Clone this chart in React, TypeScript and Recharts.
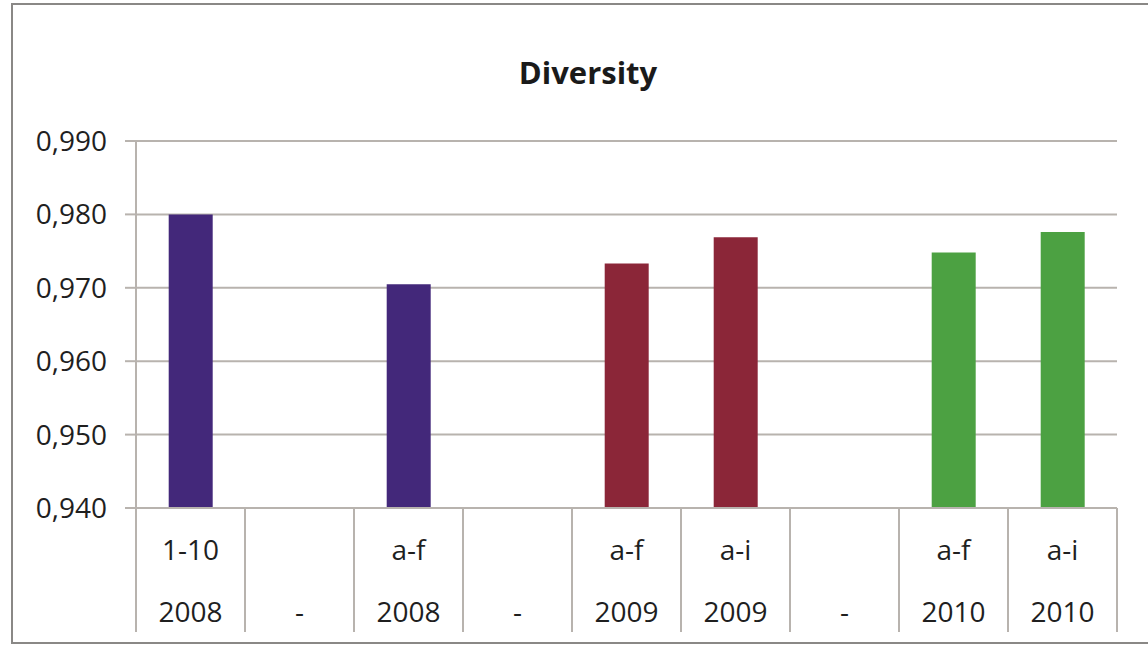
import React from 'react';
import { BarChart, Bar, XAxis, YAxis, CartesianGrid, Cell } from 'recharts';

const topLabels = ['1-10', '', 'a-f', '', 'a-f', 'a-i', '', 'a-f', 'a-i'];
const bottomLabels = ['2008', '-', '2008', '-', '2009', '2009', '-', '2010', '2010'];
const values: (number | null)[] = [0.98, null, 0.9705, null, 0.9733, 0.9769, null, 0.9748, 0.9776];
const barColors = ['#43287A', '#43287A', '#43287A', '#8B2638', '#8B2638', '#8B2638', '#4CA142', '#4CA142', '#4CA142'];
const yTicks = [0.94, 0.95, 0.96, 0.97, 0.98, 0.99];

const data = values.map((v, i) => ({ key: 'c' + i, value: v, top: topLabels[i], bottom: bottomLabels[i] }));

const W = 1148;
const H = 646;
const M = { top: 141, right: 31, bottom: 8, left: 0 };
const Y_W = 136;
const X_H = 130;
const PLOT_W = W - M.left - M.right - Y_W;
const BAND = PLOT_W / data.length;
const AXIS_Y = H - M.bottom - X_H;
const FONT = '"Open Sans", "DejaVu Sans", sans-serif';
const GRID = '#B8B3AE';
const TEXT = '#1f1f1f';

const XTick = (props: any) => {
  const { x, payload, index } = props;
  const d = data[payload.index ?? index];
  const half = BAND / 2;
  return (
    <g>
      {(payload.index ?? index) === 0 && (
        <line x1={x - half} x2={x - half} y1={AXIS_Y} y2={AXIS_Y + 124} stroke={GRID} strokeWidth={2} />
      )}
      <line x1={x + half} x2={x + half} y1={AXIS_Y} y2={AXIS_Y + 124} stroke={GRID} strokeWidth={2} />
      <text x={x} y={AXIS_Y + 52} textAnchor="middle" fontFamily={FONT} fontSize={28} fill={TEXT}>
        {d.top}
      </text>
      <text x={x} y={AXIS_Y + 114} textAnchor="middle" fontFamily={FONT} fontSize={28} fill={TEXT}>
        {d.bottom}
      </text>
    </g>
  );
};

export default function App() {
  return (
    <div style={{ position: 'absolute', left: 0, top: 0, width: W, height: H, overflow: 'hidden', background: '#fff' }}>
      <div
        style={{
          position: 'absolute',
          left: 11,
          top: 3,
          width: W + 20,
          height: 637,
          border: '2px solid #8A8886',
        }}
      />
      <div
        style={{
          position: 'absolute',
          left: 0,
          width: 1176,
          top: 57,
          textAlign: 'center',
          fontFamily: FONT,
          fontWeight: 700,
          fontSize: 31,
          lineHeight: '31px',
          color: '#1a1a1a',
        }}
      >
        Diversity
      </div>
      <div style={{ position: 'absolute', left: 0, top: 0 }}>
        <BarChart width={W} height={H} data={data} margin={M} barCategoryGap="30%">
          <CartesianGrid vertical={false} stroke={GRID} strokeWidth={2} />
          <XAxis
            dataKey="key"
            height={X_H}
            tickLine={false}
            axisLine={{ stroke: GRID, strokeWidth: 2 }}
            tick={<XTick />}
            interval={0}
          />
          <YAxis
            width={Y_W}
            domain={[0.94, 0.99]}
            ticks={yTicks}
            allowDataOverflow
            tickSize={11}
            tickMargin={18}
            tickLine={{ stroke: GRID, strokeWidth: 2 }}
            axisLine={{ stroke: GRID, strokeWidth: 2 }}
            tickFormatter={(v: number) => v.toFixed(3).replace('.', ',')}
            tick={{ fontFamily: FONT, fontSize: 28, fill: TEXT }}
          />
          <Bar dataKey="value" isAnimationActive={false}>
            {data.map((d, i) => (
              <Cell key={d.key} fill={barColors[i]} />
            ))}
          </Bar>
        </BarChart>
      </div>
    </div>
  );
}
